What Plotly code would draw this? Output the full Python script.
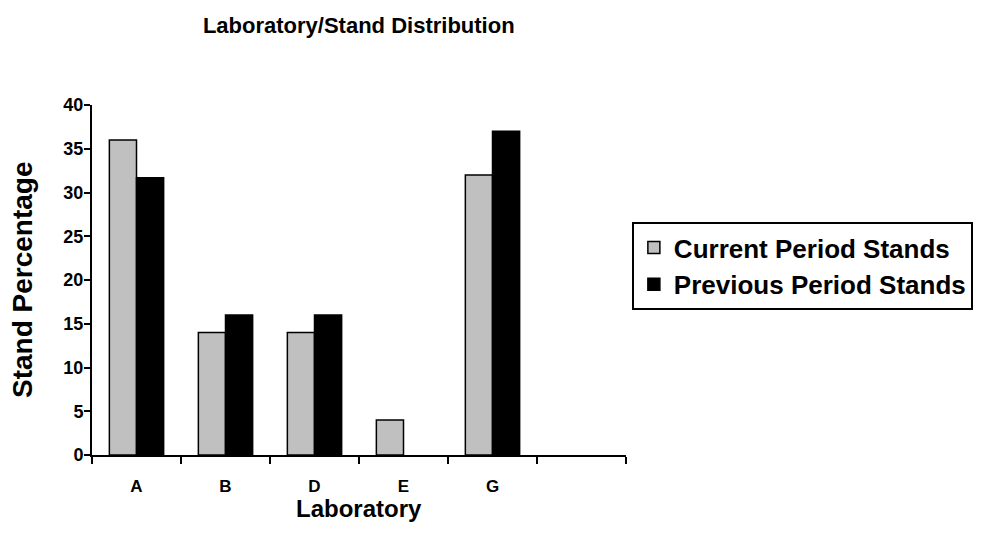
import plotly.graph_objects as go

categories = ["A", "B", "D", "E", "G"]
all_slots = ["A", "B", "D", "E", "G", " "]
current_vals = [36, 14, 14, 4, 32]
previous_vals = [31.7, 16, 16, None, 37]
y_ticks = [0, 5, 10, 15, 20, 25, 30, 35, 40]
series_names = ["Current Period Stands", "Previous Period Stands"]

FONT = "Liberation Sans, Arial, sans-serif"

fig = go.Figure()
fig.add_trace(go.Bar(
    x=categories, y=current_vals, name=f"<b>{series_names[0]}</b>",
    marker=dict(color="#C0C0C0", line=dict(color="#000000", width=1.5)),
    legendgroup="c",
))
fig.add_trace(go.Bar(
    x=categories, y=previous_vals, name=f"<b>{series_names[1]}</b>",
    marker=dict(color="#000000", line=dict(color="#000000", width=1.5)),
    legendgroup="p",
))

fig.update_layout(
    width=987, height=543,
    margin=dict(l=92, r=361, t=105, b=88),
    paper_bgcolor="white", plot_bgcolor="white",
    barmode="group", bargap=0.39, bargroupgap=0,
    font=dict(family=FONT, color="black"),
    title=dict(text="<b>Laboratory/Stand Distribution</b>", x=0.3635, xanchor="center",
               y=0.953, yanchor="middle", font=dict(size=22, family=FONT)),
    xaxis=dict(
        type="category", categoryorder="array", categoryarray=all_slots,
        range=[-0.5, 5.5], tickson="boundaries", ticks="outside", ticklen=7,
        tickwidth=2, tickcolor="black", showline=True, linecolor="black", linewidth=2,
        showgrid=False, tickfont=dict(size=17, family=FONT), ticklabelstandoff=15,
        ticktext=[f"<b>{c}</b>" for c in all_slots], tickvals=all_slots,
        zeroline=False,
    ),
    yaxis=dict(
        range=[0, 40], tickvals=y_ticks, ticktext=[f"<b>{v}</b>" for v in y_ticks],
        ticks="outside", ticklen=6, tickwidth=2, tickcolor="black",
        showline=True, linecolor="black", linewidth=2, showgrid=False,
        tickfont=dict(size=18, family=FONT), zeroline=False, ticklabelstandoff=-3,
    ),
    annotations=[
        dict(text="<b>Stand Percentage</b>", textangle=-90, xref="paper", yref="paper",
             x=-0.131, y=0.5, xanchor="center", yanchor="middle", showarrow=False,
             font=dict(size=28, family=FONT)),
        dict(text="<b>Laboratory</b>", xref="paper", yref="paper",
             x=0.5, y=-0.153, xanchor="center", yanchor="middle", showarrow=False,
             font=dict(size=24, family=FONT)),
    ],
    legend=dict(
        x=1.011, xanchor="left", y=0.54, yanchor="middle",
        bordercolor="black", borderwidth=2, bgcolor="white",
        font=dict(size=26, family=FONT), tracegroupgap=4,
        traceorder="normal",
    ),
)

fig.write_html("out.html")
